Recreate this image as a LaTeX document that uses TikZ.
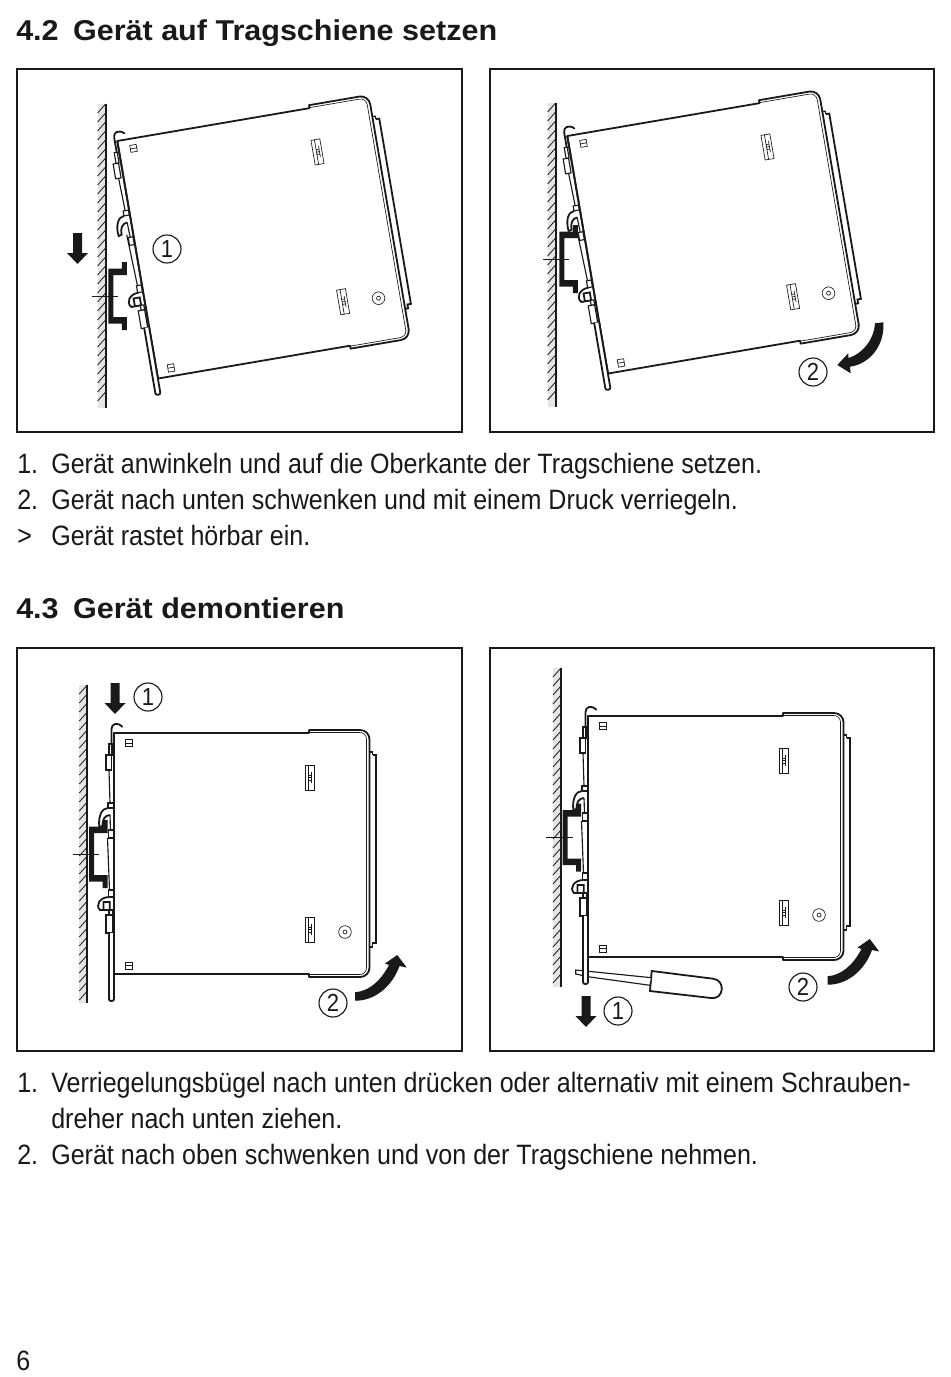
\documentclass[tikz,border=0pt]{standalone}
\usepackage{fontspec}
\newfontfamily\bodyfont[FakeStretch=0.895]{Liberation Sans}
\newfontfamily\headfont[FakeStretch=1.065]{Liberation Sans}
\usepackage{tikz}

\definecolor{wandgrau}{gray}{0.9}
\definecolor{tinte}{gray}{0.1}

\tikzset{
	riegel/.store in=\riegelweg,
	riegel=0,
	rahmen/.style={draw=tinte,line width=1.7pt},
	dick/.style={draw=tinte,line width=1.35pt},
	mittel/.style={draw=tinte,line width=0.85pt},
	duenn/.style={draw=tinte,line width=0.5pt},
	titel/.style={anchor=base west,inner sep=0pt,text=tinte,font=\headfont\bfseries\fontsize{21.5}{25}\selectfont},
	zeile/.style={anchor=base west,inner sep=0pt,text=tinte,font=\bodyfont\fontsize{21}{25}\selectfont},
	nummer/.style={circle,draw=tinte,line width=0.85pt,minimum size=21pt,inner sep=0pt,text=tinte,font=\bodyfont\fontsize{18.5}{20}\selectfont},
	schiene/.pic={
		\fill[tinte] (0,-27.5) -- (13.5,-27.5) -- (13.5,-34) -- (18.5,-34) -- (18.5,-21) -- (5,-21) -- (5,21) -- (18.5,21) -- (18.5,34) -- (13.5,34) -- (13.5,27.5) -- (0,27.5) -- cycle;
		\draw[duenn] (-16.5,0) -- (10,0);
	},
	pfeilab/.pic={
		\fill[tinte] (-4.5,0) -- (4.5,0) -- (4.5,20) -- (10.5,20) -- (0,31) -- (-10.5,20) -- (-4.5,20) -- cycle;
	},
	schwenkauf/.pic={
		\fill[tinte] (355,992.3) .. controls (370,991) and (381,980) .. (389,965) -- (385,963.5) -- (397.3,955) -- (406.7,967.5) -- (399.5,966) .. controls (392,987) and (374,1001) .. (355,1000.7) -- cycle;
	},
	geraet/.pic={
		% Gehaeuse
		\draw[fill=white,dick,line join=round] (0,0) -- (195,0) -- (195,-3) [rounded corners=7pt] -- (255.5,-3) -- (255.5,244) [sharp corners] -- (195,244) -- (195,241) -- (0,241) -- cycle;
		\draw[duenn,rounded corners=5pt] (195,-0.5) -- (252.5,-0.5) -- (252.5,241.5) -- (195,241.5);
		\draw[mittel] (255.5,19) -- (258.5,19) -- (258.5,22);
		\draw[dick] (258.5,22) -- (262,22) -- (262,210) -- (258.5,210) -- (258.5,214) -- (255.5,214);
		% Fenster und Schraube
		\draw[duenn] (11.5,6.5) rectangle (18,13.5) (11.5,10) -- (18,10);
		\draw[duenn] (11.5,229) rectangle (18,236.5) (11.5,232.5) -- (18,232.5);
		\foreach \vpos in {32,184} {
			\begin{scope}[shift={(191,\vpos)}]
			\draw[duenn] (0,0) rectangle (9,25) (3.5,0) -- (3.5,25) (6.5,7) -- (6.5,18);
			\foreach \strich in {10,12.5,15} \draw[duenn] (3.5,\strich) -- (6.5,\strich);
			\end{scope}
		}
		\draw[duenn] (231,199) circle (6.3) circle (2);
		% Riegel links
		\draw[dick,line cap=round] (0,0) -- (0,241);
		\draw[dick,line cap=round] (-2.5,12) -- (-2.5,-4) .. controls (-2.5,-9) and (3,-11.5) .. (8.3,-6.3);
		\draw[mittel,fill=white] (-5,11) rectangle (-2,22);
		\draw[mittel,fill=white] (-8,22) rectangle (-2.5,37);
		\draw[mittel] (-5,37) -- (-4,70);
		\draw[mittel,fill=white] (-6,70) rectangle (-0.7,75);
		\draw[dick,fill=white] (-6,75) .. controls (-12,75) and (-16,83) .. (-14.7,94) -- (-11.5,93) .. controls (-12,87) and (-9,82) .. (-4,82);
		\draw[mittel] (-4,82) -- (-3.5,97);
		\draw[mittel,fill=white] (-5.5,97) rectangle (-0.7,105);
		\begin{scope}[shift={(0,\riegelweg)}]
		\draw[mittel] (-6.5,105) -- (-4.5,157);
		\draw[mittel,fill=white] (-5.5,157) rectangle (-0.7,164);
		\draw[dick,fill=white] (-4.5,164) .. controls (-14,164) and (-19,172) .. (-14,177) -- (-10.5,177) -- (-10.5,169) -- (-4.2,169) -- (-4.2,177) -- (-10.5,177);
		\draw[mittel,fill=white] (-5,177) rectangle (-1.5,182);
		\draw[mittel,fill=white] (-8,182) rectangle (-1.5,200);
		\draw[dick,fill=white,line cap=round,rounded corners=1.5pt] (-5,200) -- (-5,268) -- (0,268) -- (0,200);
		\end{scope}
	}
}

\newcommand{\wand}[3]{
	\begin{scope}[shift={(#1,#2)}]
	\fill[wandgrau] (-8,0) rectangle (0,#3);
	\foreach \hoehe in {9,18,...,#3} \draw[draw=tinte,line width=0.6pt] (-8,\hoehe) -- (0,\hoehe-9);
	\draw[tinte,line width=1.5pt] (0,0) -- (0,#3);
	\end{scope}
}

\begin{document}
\begin{tikzpicture}[x=0.75pt,y=-0.75pt]
	\useasboundingbox (0,0) rectangle (950,1377);

	% 4.2
	\node[titel] (titelA) at (16,41) {4.2\hspace{0.5em}Gerät auf Tragschiene setzen};
	\draw[rahmen] (17,69) rectangle (462,432);
	\draw[rahmen] (490,69) rectangle (934,432);

	\wand{105.6}{104}{304}
	\pic at (108.3,296) {schiene};
	\pic[rotate=9.7,riegel=-11] at (117.3,141) {geraet};
	\pic at (77.5,233) {pfeilab};
	\node[nummer] (einsA) at (167,249) {1};

	\wand{555.6}{103}{304}
	\pic at (559.3,259) {schiene};
	\pic[rotate=9.7,riegel=-11] at (567.3,136) {geraet};
	\fill[tinte] (875,323.3) .. controls (874,340) and (862,354) .. (848.5,358) -- (848.3,353.3) -- (837.3,365) -- (850.7,373.3) -- (850,366.7) .. controls (870,364) and (885,345) .. (883.3,322.3) -- cycle;
	\node[nummer] (zweiA) at (813,372) {2};

	\node[zeile] (nrA) at (17,473) {1.};
	\node[zeile] (textA) at (51,473) {Gerät anwinkeln und auf die Oberkante der Tragschiene setzen.};
	\node[zeile] (nrB) at (17,509) {2.};
	\node[zeile] (textB) at (51,509) {Gerät nach unten schwenken und mit einem Druck verriegeln.};
	\node[zeile] (nrC) at (17,545) {>};
	\node[zeile] (textC) at (51,545) {Gerät rastet hörbar ein.};

	% 4.3
	\node[titel] (titelB) at (16,618) {4.3\hspace{0.5em}Gerät demontieren};
	\draw[rahmen] (17,648) rectangle (462,1051);
	\draw[rahmen] (490,648) rectangle (934,1051);

	\wand{87.3}{685}{318}
	\pic at (89,854) {schiene};
	\pic at (114,733) {geraet};
	\pic at (115,683) {pfeilab};
	\node[nummer] (einsB) at (148,697) {1};
	\pic at (0,0) {schwenkauf};
	\node[nummer] (zweiB) at (333,1003) {2};

	\wand{561}{668}{319}
	\pic at (562.7,837.5) {schiene};
	% Schraubendreher
	\draw[dick,fill=white] (651.7,971) -- (713,978.7) .. controls (726,980) and (724,1000) .. (711,998) -- (650,991) -- cycle;
	\draw[mittel,fill=white] (575.7,970) -- (651.5,977.7) -- (650,985.3) -- (590,977) -- (575.7,974) -- cycle;
	\pic at (588,716) {geraet};
	\pic at (586,996) {pfeilab};
	\node[nummer] (einsC) at (618,1011) {1};
	\pic at (472.5,-16) {schwenkauf};
	\node[nummer] (zweiC) at (803,987) {2};

	\node[zeile] (nrD) at (17,1092) {1.};
	\node[zeile] (textD) at (51,1092) {Verriegelungsbügel nach unten drücken oder alternativ mit einem Schrauben-};
	\node[zeile] (textE) at (51,1128) {dreher nach unten ziehen.};
	\node[zeile] (nrE) at (17,1164) {2.};
	\node[zeile] (textF) at (51,1164) {Gerät nach oben schwenken und von der Tragschiene nehmen.};

	\node[zeile] (seite) at (16,1370) {6};
\end{tikzpicture}
\end{document}
